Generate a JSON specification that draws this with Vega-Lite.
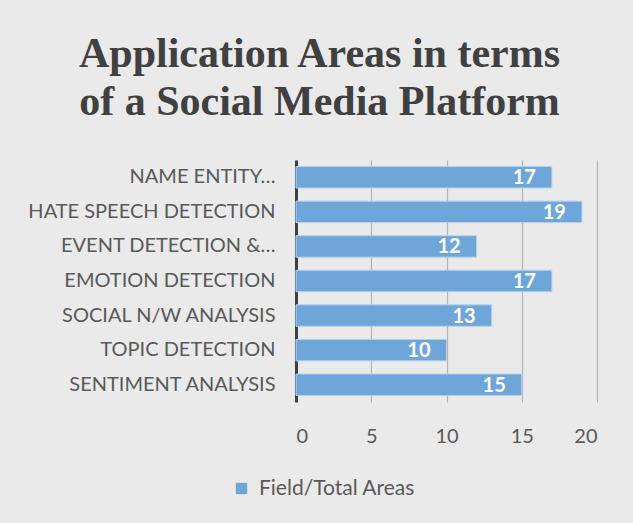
{
  "$schema": "https://vega.github.io/schema/vega-lite/v6.json",
  "width": 301,
  "height": 242,
  "autosize": {"type": "none"},
  "padding": {"left": 296, "top": 160, "right": 36, "bottom": 121},
  "background": "#eaeaea",
  "title": {
    "text": ["Application Areas in terms", "of a Social Media Platform"],
    "font": "Liberation Serif",
    "fontSize": 42,
    "fontWeight": "bold",
    "color": "#404040",
    "anchor": "middle",
    "frame": "group",
    "dx": -127,
    "offset": 36,
    "lineHeight": 48
  },
  "data": {
    "values": [
      {"area": "NAME ENTITY…", "value": 17, "series": "Field/Total Areas"},
      {"area": "HATE SPEECH DETECTION", "value": 19, "series": "Field/Total Areas"},
      {"area": "EVENT DETECTION &…", "value": 12, "series": "Field/Total Areas"},
      {"area": "EMOTION DETECTION", "value": 17, "series": "Field/Total Areas"},
      {"area": "SOCIAL N/W ANALYSIS", "value": 13, "series": "Field/Total Areas"},
      {"area": "TOPIC DETECTION", "value": 10, "series": "Field/Total Areas"},
      {"area": "SENTIMENT ANALYSIS", "value": 15, "series": "Field/Total Areas"}
    ]
  },
  "encoding": {
    "y": {
      "field": "area",
      "type": "nominal",
      "sort": null,
      "scale": {"paddingInner": 0.38, "paddingOuter": 0.19},
      "axis": {
        "title": null,
        "ticks": false,
        "labelFont": "Lato",
        "labelFontSize": 20,
        "labelColor": "#595959",
        "labelPadding": 21,
        "labelLimit": 0,
        "domainColor": "#404040",
        "domainWidth": 3,
        "grid": false
      }
    },
    "x": {
      "field": "value",
      "type": "quantitative",
      "scale": {"domain": [0, 20]},
      "axis": {
        "title": null,
        "values": [0, 5, 10, 15, 20],
        "ticks": false,
        "domain": false,
        "grid": true,
        "gridColor": "#b5b5b5",
        "gridWidth": 1.2,
        "labelFont": "Lato",
        "labelFontSize": 20,
        "labelColor": "#595959",
        "labelPadding": 24
      }
    }
  },
  "layer": [
    {
      "mark": {"type": "bar", "stroke": "#b5d2ec", "strokeWidth": 1},
      "encoding": {
        "color": {
          "field": "series",
          "type": "nominal",
          "scale": {"range": ["#6fa6da"]},
          "legend": {
            "title": null,
            "orient": "none",
            "legendX": -65,
            "legendY": 318,
            "symbolType": "square",
            "symbolSize": 130,
            "symbolStrokeWidth": 0,
            "labelFont": "Lato",
            "labelFontSize": 21,
            "labelColor": "#595959",
            "labelOffset": 7
          }
        }
      }
    },
    {
      "mark": {
        "type": "text",
        "align": "right",
        "dx": -16,
        "dy": 1,
        "color": "white",
        "font": "Lato",
        "fontSize": 20,
        "fontWeight": "bold"
      },
      "encoding": {"text": {"field": "value", "type": "quantitative"}}
    }
  ],
  "config": {"view": {"stroke": null}}
}
